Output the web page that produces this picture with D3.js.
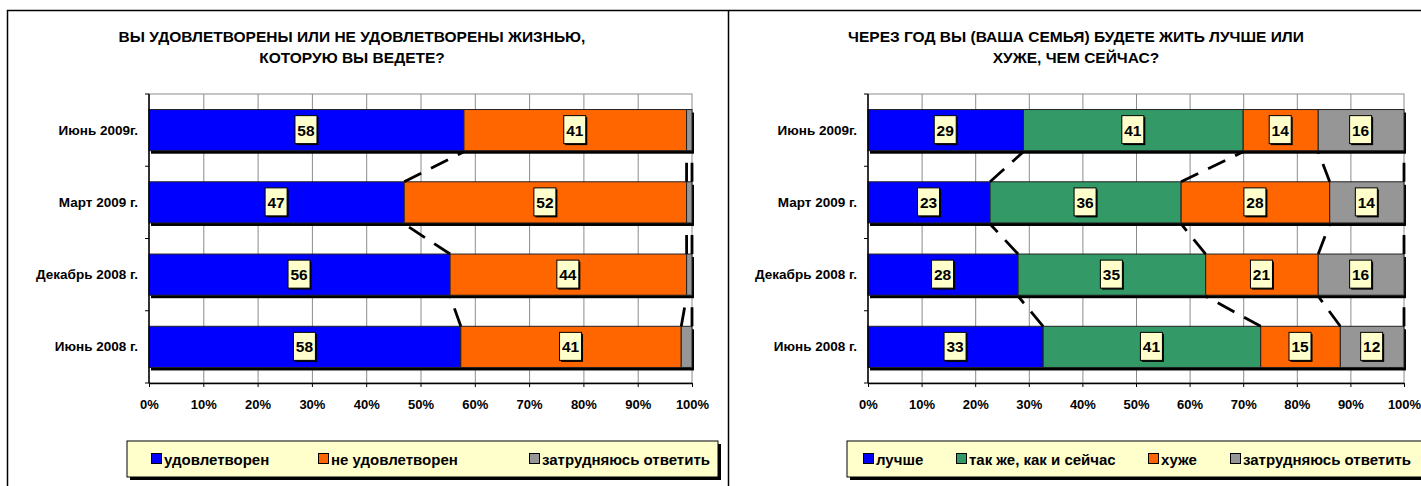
<!DOCTYPE html>
<html>
<head>
<meta charset="utf-8">
<script src="https://cdn.jsdelivr.net/npm/d3@7"></script>
<style>
  body { margin: 0; background: #fff; }
  text { font-family: "Liberation Sans Narrow", "Arial Narrow", "Liberation Sans", Arial, sans-serif; font-weight: bold; fill: #000; }
</style>
</head>
<body>
<div id="chart"></div>
<script>
// categories (top to bottom, as drawn)
const periods = ["Июнь 2009г.", "Март 2009 г.", "Декабрь 2008 г.", "Июнь 2008 г."];

// left chart: life satisfaction
const lifeTitle = ["ВЫ УДОВЛЕТВОРЕНЫ ИЛИ НЕ УДОВЛЕТВОРЕНЫ ЖИЗНЬЮ,", "КОТОРУЮ ВЫ ВЕДЕТЕ?"];
const lifeSeries = ["удовлетворен", "не удовлетворен", "затрудняюсь ответить"];
const lifeSatisfied = [58, 47, 56, 58];
const lifeNotSatisfied = [41, 52, 44, 41];
const lifeHard = [1, 1, 1, 2];

// right chart: next year expectations
const futureTitle = ["ЧЕРЕЗ ГОД ВЫ (ВАША СЕМЬЯ) БУДЕТЕ ЖИТЬ ЛУЧШЕ ИЛИ", "ХУЖЕ, ЧЕМ СЕЙЧАС?"];
const futureSeries = ["лучше", "так же, как и сейчас", "хуже", "затрудняюсь ответить"];
const futureBetter = [29, 23, 28, 33];
const futureSame = [41, 36, 35, 41];
const futureWorse = [14, 28, 21, 15];
const futureHard = [16, 14, 16, 12];

// x axis tick labels (percent)
const xTicks = [0, 10, 20, 30, 40, 50, 60, 70, 80, 90, 100];

const width = 1421, height = 486;

const svg = d3.select("#chart").append("svg")
  .attr("width", width)
  .attr("height", height)
  .attr("viewBox", [0, 0, width, height]);

// panel frames (they run past the bottom of the picture)
svg.append("path")
  .attr("d", "M7.5,500 V10.5 H1425 M728.5,10.5 V500")
  .attr("fill", "none")
  .attr("stroke", "#000")
  .attr("stroke-width", 1.5);

function drawPanel(opts) {
  const {title, series, values, colors, plot, titleX, legend} = opts;

  // rows for d3.stack
  const rows = periods.map((p, i) => {
    const r = {period: p};
    series.forEach((s, k) => r[s] = values[k][i]);
    return r;
  });
  const stacked = d3.stack().keys(series).offset(d3.stackOffsetExpand)(rows);

  const x = d3.scaleLinear([0, 1], [plot.x0, plot.x1]);
  const y = d3.scaleBand(periods, [plot.y0, plot.y1]).paddingInner(0.43).paddingOuter(0.215);

  const g = svg.append("g");

  // title
  g.append("text")
    .attr("x", titleX)
    .attr("y", 42)
    .attr("text-anchor", "middle")
    .attr("font-size", 15.5)
    .selectAll("tspan")
    .data(title)
    .join("tspan")
      .attr("x", titleX)
      .attr("dy", (d, i) => i ? 21 : 0)
      .text(d => d);

  // plot area border + vertical gridlines
  g.append("rect")
    .attr("x", plot.x0).attr("y", plot.y0)
    .attr("width", plot.x1 - plot.x0).attr("height", plot.y1 - plot.y0)
    .attr("fill", "#fff").attr("stroke", "#8c8c8c");

  g.append("g").selectAll("line")
    .data(xTicks.slice(1, -1))
    .join("line")
      .attr("x1", d => x(d / 100) + 0.5).attr("x2", d => x(d / 100) + 0.5)
      .attr("y1", plot.y0).attr("y2", plot.y1)
      .attr("stroke", "#8c8c8c");

  // bar shadows
  g.append("g").selectAll("rect")
    .data(periods)
    .join("rect")
      .attr("x", x(0) + 2)
      .attr("y", d => y(d) + 3)
      .attr("width", x(1) - x(0))
      .attr("height", y.bandwidth())
      .attr("fill", "#000");

  // stacked segments
  g.append("g").selectAll("g")
    .data(stacked)
    .join("g")
      .attr("fill", (d, k) => colors[k])
    .selectAll("rect")
    .data(d => d)
    .join("rect")
      .attr("x", d => x(d[0]))
      .attr("y", d => y(d.data.period))
      .attr("width", d => x(d[1]) - x(d[0]))
      .attr("height", y.bandwidth())
      .attr("stroke", "#222")
      .attr("stroke-width", 1);

  // series lines between neighbouring bars
  const links = [];
  stacked.forEach(layer => {
    for (let i = 0; i < periods.length - 1; i++) {
      links.push({
        x1: x(layer[i + 1][1]), y1: y(periods[i + 1]),
        x2: x(layer[i][1]), y2: y(periods[i]) + y.bandwidth() + 1
      });
    }
  });
  g.append("g").selectAll("line")
    .data(links)
    .join("line")
      .attr("x1", d => d.x1).attr("y1", d => d.y1)
      .attr("x2", d => d.x2).attr("y2", d => d.y2)
      .attr("stroke", "#000")
      .attr("stroke-width", 2.8)
      .attr("stroke-dasharray", "19,11");

  // data labels (skip tiny segments)
  const labels = [];
  stacked.forEach((layer, k) => layer.forEach((d, i) => {
    const v = values[k][i];
    if (v >= 5) labels.push({v, cx: x((d[0] + d[1]) / 2), cy: y(periods[i]) + y.bandwidth() / 2});
  }));
  const lab = g.append("g").selectAll("g")
    .data(labels)
    .join("g")
      .attr("transform", d => `translate(${d.cx},${d.cy})`);
  lab.append("rect")
    .attr("x", -10).attr("y", -13).attr("width", 22).attr("height", 28)
    .attr("fill", "#000");
  lab.append("rect")
    .attr("x", -11.5).attr("y", -14.5).attr("width", 22).attr("height", 28)
    .attr("fill", "#ffffcc").attr("stroke", "#000").attr("stroke-width", 1);
  lab.append("text")
    .attr("x", -0.5).attr("y", 5.5)
    .attr("text-anchor", "middle")
    .attr("font-size", 15.5)
    .text(d => d.v);

  // x axis
  const xAxis = g.append("g")
    .attr("transform", `translate(0,${plot.y1})`)
    .call(d3.axisBottom(x)
      .tickValues(xTicks.map(d => d / 100))
      .tickFormat(d => Math.round(d * 100) + "%")
      .tickSize(4)
      .tickPadding(13)
      .tickSizeOuter(0));
  xAxis.select(".domain").attr("stroke", "#000").attr("stroke-width", 1.5);
  xAxis.selectAll(".tick line").attr("stroke", "#000");
  xAxis.selectAll(".tick text").attr("font-size", 13).attr("font-family", null);

  // y axis: line, ticks at band edges, labels in the middle
  g.append("line")
    .attr("x1", plot.x0).attr("x2", plot.x0)
    .attr("y1", plot.y0).attr("y2", plot.y1)
    .attr("stroke", "#000").attr("stroke-width", 1.5);
  g.append("g").selectAll("line")
    .data(d3.range(periods.length + 1))
    .join("line")
      .attr("x1", plot.x0 - 4).attr("x2", plot.x0)
      .attr("y1", i => plot.y0 + i * y.step())
      .attr("y2", i => plot.y0 + i * y.step())
      .attr("stroke", "#000");
  g.append("g").selectAll("text")
    .data(periods)
    .join("text")
      .attr("x", plot.x0 - 11)
      .attr("y", d => y(d) + y.bandwidth() / 2 + 4.5)
      .attr("text-anchor", "end")
      .attr("font-size", 13.5)
      .text(d => d);

  // legend
  const lg = g.append("g");
  lg.append("rect")
    .attr("x", legend.x0 + 3).attr("y", legend.y0 + 3)
    .attr("width", legend.x1 - legend.x0).attr("height", legend.y1 - legend.y0)
    .attr("fill", "#000");
  lg.append("rect")
    .attr("x", legend.x0).attr("y", legend.y0)
    .attr("width", legend.x1 - legend.x0).attr("height", legend.y1 - legend.y0)
    .attr("fill", "#ffffcc").attr("stroke", "#000");
  const item = lg.selectAll("g")
    .data(series)
    .join("g")
      .attr("transform", (d, k) => `translate(${legend.items[k]},${(legend.y0 + legend.y1) / 2})`);
  item.append("rect")
    .attr("x", 0.5).attr("y", -5.5).attr("width", 10).attr("height", 10)
    .attr("fill", (d, k) => colors[k]).attr("stroke", "#000");
  item.append("text")
    .attr("x", 13).attr("y", 5.5)
    .attr("font-size", 15)
    .text(d => d);
}

drawPanel({
  title: lifeTitle,
  series: lifeSeries,
  values: [lifeSatisfied, lifeNotSatisfied, lifeHard],
  colors: ["#0000ff", "#ff6600", "#969696"],
  plot: {x0: 149, x1: 692, y0: 94, y1: 383},
  titleX: 352,
  legend: {x0: 127, x1: 718, y0: 441, y1: 477, items: [151, 318, 529]}
});

drawPanel({
  title: futureTitle,
  series: futureSeries,
  values: [futureBetter, futureSame, futureWorse, futureHard],
  colors: ["#0000ff", "#339966", "#ff6600", "#969696"],
  plot: {x0: 868, x1: 1404, y0: 94, y1: 383},
  titleX: 1076,
  legend: {x0: 847, x1: 1426, y0: 441, y1: 477, items: [863, 956, 1148, 1230]}
});
</script>
</body>
</html>
